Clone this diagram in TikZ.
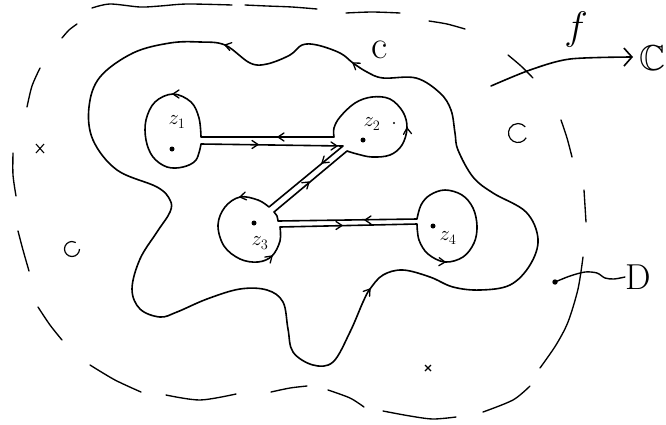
\documentclass[tikz,border=0pt]{standalone}
\usepackage{amssymb}
\usetikzlibrary{arrows.meta}
\tikzset{
  cont/.style={line width=1.6pt, line join=round, line cap=round},
  dsh/.style={line width=1.35pt, line cap=round},
  chev/.pic={\draw[line width=1.3pt, line cap=round, line join=round] (-6pt,4pt) -- (0pt,0pt) -- (-6pt,-4pt);},
  lbl/.style={inner sep=0pt},
  zlbl/.style={inner sep=0pt, font=\huge},
  pt/.style={fill=black}
}
\begin{document}
\begin{tikzpicture}[x=1pt,y=-1pt]
\useasboundingbox (0,0) rectangle (666,424);

% ---- outer dashed boundary of D (hand-drawn dashes)
\draw[dsh] plot[smooth] coordinates {(92,8) (110,4) (140,7) (160,6) (187,4) (232,5)};
\draw[dsh] plot[smooth] coordinates {(245,5) (267,6) (292,7) (317,9)};
\draw[dsh] plot[smooth] coordinates {(346,13) (372,12) (400,13)};
\draw[dsh] plot[smooth] coordinates {(429,21) (447,24) (465,29)};
\draw[dsh] plot[smooth] coordinates {(508,55) (521,66) (533,78)};
\draw[dsh] plot[smooth] coordinates {(561,120) (567,138) (572,157)};
\draw[dsh] plot[smooth] coordinates {(584,190) (585,206) (586,222)};
\draw[dsh] plot[smooth] coordinates {(583,257) (578,289) (568,322) (556,345) (540,368)};
\draw[dsh] plot[smooth] coordinates {(530,386) (513,400) (483,412)};
\draw[dsh] plot[smooth] coordinates {(456,417) (433,419) (410,416) (383,411)};
\draw[dsh] plot[smooth] coordinates {(364,407) (350,398) (328,390)};
\draw[dsh] plot[smooth] coordinates {(307,386) (290,388) (271,392)};
\draw[dsh] plot[smooth] coordinates {(236,394) (200,400) (166,395)};
\draw[dsh] plot[smooth] coordinates {(141,392) (115,380) (90,365)};
\draw[dsh] plot[smooth] coordinates {(62,340) (50,325) (38,307)};
\draw[dsh] plot[smooth] coordinates {(29,271) (23,250) (18,231)};
\draw[dsh] plot[smooth] coordinates {(16,196) (13,175) (13,153)};
\draw[dsh] plot[smooth] coordinates {(27,107) (32,86) (40,68)};
\draw[dsh] plot[smooth] coordinates {(62,38) (69,30) (77,24)};

% ---- contour C
\draw[cont] plot[smooth cycle, tension=0.6] coordinates {
 (170,43) (133,53) (100,77) (89,107) (93,140) (117,170) (157,187) (170,200) (170,212)
 (157,232) (140,259) (132,289) (140,309) (160,317) (177,312) (207,299) (240,289)
 (267,290) (283,302) (288,329) (293,352) (313,365) (333,362) (350,332) (363,302)
 (370,289) (383,275) (403,270) (430,277) (453,287) (480,290) (510,285) (530,265)
 (538,239) (526,212) (493,193) (473,177) (458,150) (455,133) (451,110) (440,93)
 (416,78) (383,78) (367,72) (353,63) (340,53) (317,45) (302,45) (290,55) (267,64)
 (250,63) (225,45) (200,42)};
\pic[rotate=165] at (225,45) {chev};
\pic[rotate=145] at (353,63) {chev};
\pic[rotate=53] at (370,289) {chev};

% ---- points z_k
\coordinate (z1) at (172,149);
\coordinate (z2) at (363,140);
\coordinate (z3) at (254,223);
\coordinate (z4) at (433,226);
% junctions
\coordinate (j1u) at (201,137);
\coordinate (j1l) at (201,144);
\coordinate (j2u) at (334,137);
\coordinate (j2l) at (343,146);
\coordinate (j2r) at (347,151);
\coordinate (j3a) at (269,207);
\coordinate (j3b) at (274,212);
\coordinate (j3c) at (278,221);
\coordinate (j3d) at (280,227);
\coordinate (j4u) at (417,219);
\coordinate (j4l) at (417,224);

% ---- slits and small circles (one closed contour)
\draw[cont] (j1l) -- (j2l) -- (j3a)
  -- plot[smooth, tension=0.6] coordinates {(j3a) (258,200) (240,197) (225,207) (218,225) (224,246) (240,259) (258,262) (272,256) (280,241) (j3d)}
  -- (j4l)
  -- plot[smooth, tension=0.6] coordinates {(j4l) (419,240) (428,254) (445,262) (463,257) (474,243) (477,226) (473,208) (462,195) (445,190) (430,195) (421,205) (j4u)}
  -- (j3c)
  -- plot[smooth] coordinates {(j3c) (277,216) (j3b)}
  -- (j2r)
  -- plot[smooth, tension=0.6] coordinates {(j2r) (357,154) (372,157) (390,155) (402,145) (407,128) (403,112) (390,99) (372,97) (355,103) (340,117) (334,128) (j2u)}
  -- (j1u)
  -- plot[smooth, tension=0.6] coordinates {(j1u) (199,118) (191,102) (173,94) (155,102) (146,120) (146,140) (153,157) (167,167) (183,167) (196,160) (j1l)};

% arrows on slits
\pic[rotate=180] at (278,137) {chev};
\pic[rotate=0] at (258,144.5) {chev};
\pic[rotate=0] at (337,146) {chev};
\pic[rotate=219.5] at (322,163) {chev};
\pic[rotate=39.5] at (309,182) {chev};
\pic[rotate=180] at (365,220) {chev};
\pic[rotate=0] at (342,225.5) {chev};
% arrows on small circles
\pic[rotate=180] at (173,94) {chev};
\pic[rotate=95] at (407,128) {chev};
\pic[rotate=190] at (240,197) {chev};
\pic[rotate=42] at (272,256) {chev};
\pic[rotate=-3] at (445,262) {chev};

% dots and labels
\fill[pt] (z1) circle[radius=2.5];
\fill[pt] (z2) circle[radius=2.5];
\fill[pt] (z3) circle[radius=2.5];
\fill[pt] (z4) circle[radius=2.5];
\fill[pt] (394,123) circle[radius=1.1];
\node[zlbl] (lz1) at (177,122) {$z_1$};
\node[zlbl] (lz2) at (372,124) {$z_2$};
\node[zlbl] (lz3) at (260,243) {$z_3$};
\node[zlbl] (lz4) at (448,238) {$z_4$};

\node[lbl, font=\Huge, scale=1.6] (lc) at (380,50) {c};

% marks in D
\draw[line width=1.2pt] (72,249) ++(0:7.5) arc[start angle=0, end angle=300, radius=7.5];
\draw[line width=1.2pt] (518,133) ++(30:9.5) arc[start angle=30, end angle=320, radius=9.5];
\draw[line width=1.1pt] (36,144) -- (44,153) (44,144) -- (36,153);
\draw[line width=1.1pt] (425,365) -- (431,371) (431,365) -- (425,371);

% map f into C
\coordinate (fs) at (491,86);
\coordinate (fe) at (633,57);
\draw[cont, -{Straight Barb[length=8pt,width=18pt]}] plot[smooth] coordinates {(fs) (530,70) (570,59) (fe)};
\node[lbl, font=\Huge, scale=1.6] (lf) at (576,30) {$f$};
\node[lbl, anchor=east, scale=1.45] (lC) at (666,58) {\Huge$\mathbb{C}$};

% label D with pointer
\node[lbl, font=\Huge, scale=1.45] (lD) at (638,277) {D};
\coordinate (Dp) at (555,282);
\fill[pt] (Dp) circle[radius=2.7];
\draw[cont, line width=1.4pt] plot[smooth] coordinates {(Dp) (570,276) (585,272) (597,273) (605,278) (614,279) (lD.west)};
\end{tikzpicture}
\end{document}
